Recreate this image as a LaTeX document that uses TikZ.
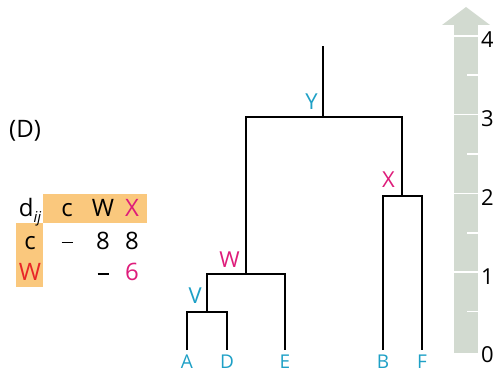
\documentclass[tikz,border=0pt]{standalone}
\usepackage{fontspec}
\setmainfont{Open Sans}
\usepackage{xcolor}
\usetikzlibrary{positioning}
\definecolor{cian}{RGB}{30,160,198}
\definecolor{rosa}{RGB}{222,28,122}
\definecolor{rojo}{RGB}{232,38,40}
\definecolor{naranja}{RGB}{250,200,125}
\definecolor{escala}{RGB}{210,218,208}
\newcommand{\guion}{\rule[6.5pt]{11pt}{1.8pt}}
\tikzset{
  rama/.style={line width=2.6pt, line join=miter},
  hoja/.style={font=\fontsize{19}{19}\selectfont, text=cian, inner sep=0pt},
  union/.style={font=\fontsize{22}{22}\selectfont, inner sep=0pt},
  celda/.style={font=\fontsize{24}{24}\selectfont, inner sep=0pt, anchor=base},
  marca/.style={white, line width=1.6pt},
  nivel/.style={font=\fontsize{22}{22}\selectfont, anchor=west, inner sep=0pt}
}

\begin{document}
\begin{tikzpicture}[x=1pt, y=-1pt]
  \useasboundingbox (0,0) rectangle (493,374);
  % escala de distancias
  \fill[escala] (454,25) rectangle (478,353);
  \fill[escala] (442,25) -- (466,7) -- (490,25) -- cycle;
  \foreach \k in {1,...,4}
    \draw[marca] (454,351-78.8*\k) -- (478,351-78.8*\k);
  \foreach \k in {0,...,3}
    \draw[marca] (467,351-78.8*\k-39.4) -- (478,351-78.8*\k-39.4);
  \foreach \k in {0,...,4}
    \node[nivel] (n\k) at (481,355-78.8*\k) {\k};
  % arbol
  \coordinate (pA) at (187,350);
  \coordinate (pD) at (227,350);
  \coordinate (pE) at (285,350);
  \coordinate (pB) at (383,350);
  \coordinate (pF) at (422,350);
  \coordinate (v) at (207,312);
  \coordinate (w) at (246,274);
  \coordinate (x) at (402,196);
  \coordinate (y) at (323,117);
  \coordinate (raiz) at (323,46);
  \draw[rama] (pA) |- (v) -| (pD);
  \draw[rama] (v) |- (w) -| (pE);
  \draw[rama] (pB) |- (x) -| (pF);
  \draw[rama] (w) |- (y) -| (x);
  \draw[rama] (y) -- (raiz);
  \node[hoja, below=5pt of pA] (A) {A};
  \node[hoja, below=5pt of pD] (D) {D};
  \node[hoja, below=5pt of pE] (E) {E};
  \node[hoja, below=5pt of pB] (B) {B};
  \node[hoja, below=5pt of pF] (F) {F};
  \node[union, text=cian, above left=8pt and 5pt of v] (lv) {V};
  \node[union, text=rosa, above left=6pt and 6pt of w] (lw) {W};
  \node[union, text=cian, above left=7pt and 5pt of y] (ly) {Y};
  \node[union, text=rosa, above left=8pt and 7pt of x] (lx) {X};
  % tabla de distancias
  \node[union, font=\fontsize{24}{24}\selectfont] (panel) at (25,131) {(D)};
  \fill[naranja] (43,194) rectangle (147,223);
  \fill[naranja] (16,223) rectangle (43,287);
  \node[celda] (dij) at (30,217) {d\raisebox{-0.25em}{\fontsize{15}{15}\selectfont\itshape ij}};
  \node[celda] (hc) at (67,217) {c};
  \node[celda] (hw) at (103,217) {W};
  \node[celda, text=rosa] (hx) at (132,217) {X};
  \node[celda] (rc) at (30,250) {c};
  \node[celda, text=rojo] (rw) at (30,281) {W};
  \node[celda] (cc) at (67,250) {\guion};
  \node[celda] (cw) at (103,250) {8};
  \node[celda] (cx) at (132,250) {8};
  \node[celda] (ww) at (103,281) {\guion};
  \node[celda, text=rosa] (wx) at (132,281) {6};
\end{tikzpicture}
\end{document}
